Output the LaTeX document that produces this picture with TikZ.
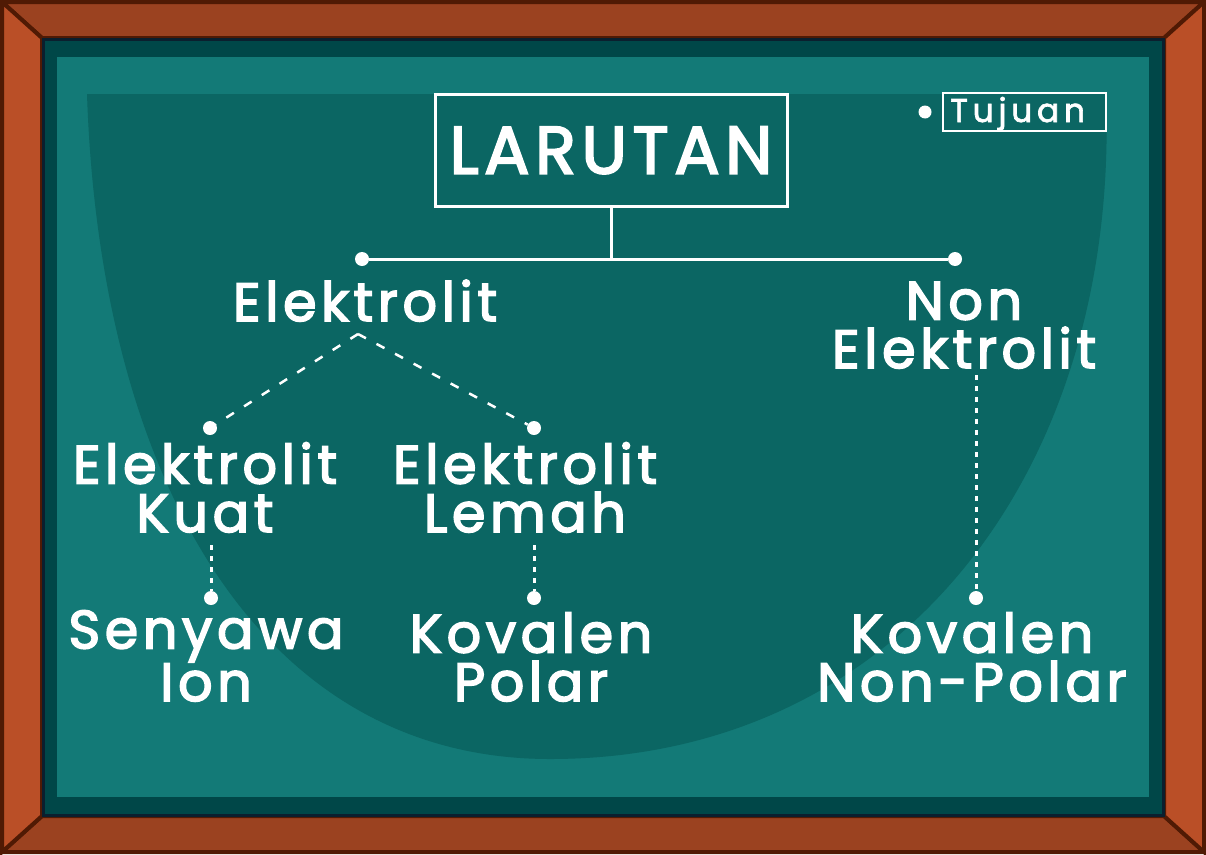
\documentclass[tikz,border=0pt]{standalone}
\usepackage{fontspec}
\newfontfamily\pop{Poppins}[LetterSpace=8.5,FakeBold=3]
\newfontfamily\popt{Poppins}[LetterSpace=14,FakeBold=2]
\definecolor{framedark}{HTML}{501A04}
\definecolor{frametop}{HTML}{9B4220}
\definecolor{frameside}{HTML}{BA4F27}
\definecolor{navy}{HTML}{0B1F2E}
\definecolor{bandteal}{HTML}{004748}
\definecolor{boardteal}{HTML}{137A77}
\definecolor{shapeteal}{HTML}{0B6663}
\tikzset{
  lbl/.style={text=white, font=\pop\fontsize{54}{48.5}\selectfont, align=center, anchor=base, inner sep=0pt},
  dotnode/.style={circle, fill=white, minimum size=14pt, inner sep=0pt},
  link/.style={white, line width=3pt},
  dashlink/.style={white, line width=2.5pt, dash pattern=on 9pt off 12pt},
  dotlink/.style={white, line width=3pt, dash pattern=on 5pt off 6pt},
  framepart/.style={draw=framedark, line width=4pt, line join=miter}
}
\begin{document}
\begin{tikzpicture}[x=1pt,y=-1pt]
\useasboundingbox (0,0) rectangle (1206,854);
% wooden frame
\fill[framedark] (0,0) rectangle (1206,854);
\filldraw[framepart, fill=frametop] (2,2) -- (1204,2) -- (1164,38) -- (42,38) -- cycle;
\filldraw[framepart, fill=frametop] (2,852) -- (1204,852) -- (1164,816) -- (42,816) -- cycle;
\filldraw[framepart, fill=frameside] (2,2) -- (42,38) -- (42,816) -- (2,852) -- cycle;
\filldraw[framepart, fill=frameside] (1204,2) -- (1164,38) -- (1164,816) -- (1204,852) -- cycle;
% board
\filldraw[fill=bandteal, draw=navy, line width=3pt] (43,39) rectangle (1163,815);
\fill[boardteal] (57,57) rectangle (1149,797);
\fill[shapeteal] (87,94) .. controls (100,480) and (260,759) .. (550,759)
  .. controls (900,759) and (1120,470) .. (1106,94) -- cycle;

% title box
\node[draw=white, line width=3pt, minimum width=352pt, minimum height=112pt, inner sep=0pt,
  text=white, text height=47pt, text depth=0pt,
  font=\pop\fontsize{67}{67}\selectfont] (larutan) at (611,150) {LARUTAN};

% Tujuan
\node[draw=white, line width=2pt, minimum width=163pt, minimum height=38pt, inner sep=0pt] (tujbox) at (1024.5,112) {};
\node[text=white, anchor=base west, inner sep=0pt, font=\popt\fontsize{33}{33}\selectfont] (tujuan) at (950,122) {Tujuan};
\node[dotnode, minimum size=13pt] (tujdot) at (925,112) {};

% level 1
\node[dotnode] (d1l) at (362,259) {};
\node[dotnode] (d1r) at (955,259) {};
\draw[link] (d1l) -- (d1r);
\draw[link] (larutan.south) -- (larutan.south |- d1l);
\node[lbl] (elek) at (365,321) {Elektrolit};
\node[lbl] (nonelek) at (964,368) {Non\\Elektrolit};

% level 2
\coordinate (apex) at (358,334);
\node[dotnode] (d2l) at (210,428) {};
\node[dotnode] (d2r) at (534,428) {};
\draw[dashlink] (apex) -- (d2l);
\draw[dashlink] (apex) -- (d2r);
\node[lbl] (kuat) at (205,532) {Elektrolit\\Kuat};
\node[lbl] (lemah) at (525,532) {Elektrolit\\Lemah};

% level 3
\coordinate (kuatend) at (211,545);
\coordinate (lemahend) at (534,545);
\coordinate (nonend) at (976,375);
\node[dotnode] (d3a) at (211,598) {};
\node[dotnode] (d3b) at (534,598) {};
\node[dotnode] (d3c) at (976,598) {};
\draw[dotlink] (kuatend) -- (d3a);
\draw[dotlink] (lemahend) -- (d3b);
\draw[dotlink] (nonend) -- (d3c);
\node[lbl] (ion) at (206,701) {Senyawa\\Ion};
\node[lbl] (polar) at (531,701) {Kovalen\\Polar};
\node[lbl] (nonpolar) at (972,701) {Kovalen\\Non-Polar};
\end{tikzpicture}
\end{document}
